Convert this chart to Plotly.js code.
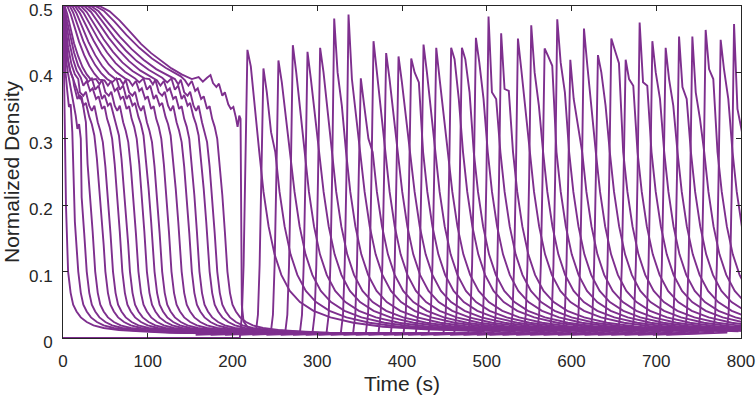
<!DOCTYPE html>
<html><head><meta charset="utf-8">
<script src="https://cdn.plot.ly/plotly-3.0.1.min.js"></script>
<style>html,body{margin:0;padding:0;background:#fff}</style>
</head><body><div id="chart" style="width:756px;height:402px"></div>
<script>
// ---------- tick labels ----------
const xTicks = [0, 100, 200, 300, 400, 500, 600, 700, 800];
const yTicks = [0, 0.1, 0.2, 0.3, 0.4, 0.5];
const yTickText = ['0', '0.1', '0.2', '0.3', '0.4', '0.5'];

// ---------- initial jam: time at which each segment falls through 0.1 ----------
const jamFallTimes = [6, 18, 28, 38, 50, 59, 70, 79, 89, 99, 108, 117, 128, 140, 152, 161, 173, 182, 194];
// which falling profile each jam line uses (0=A,1=B,2=C)
const jamFallKind = [0, 1, 2, 0, 1, 2, 0, 1, 2, 0, 1, 2, 0, 1, 2, 0, 1, 2, 0];

// falling profiles (offset from fall time, density)
const fallADt = [-50, -46, -42, -38, -35, -31, -28, -24, -21, -18, -15, -12, -9, -6, -3, 0];
const fallAV  = [0.388, 0.380, 0.387, 0.372, 0.376, 0.360, 0.364, 0.345, 0.349, 0.330, 0.318, 0.300, 0.262, 0.215, 0.160, 0.1];
const fallBDt = [-50, -45, -41, -37, -33, -30, -26, -23, -19, -16, -13, -10, -7, -4, -2, 0];
const fallBV  = [0.385, 0.391, 0.374, 0.380, 0.360, 0.366, 0.350, 0.354, 0.333, 0.322, 0.305, 0.270, 0.225, 0.175, 0.140, 0.1];
const fallCDt = [-50, -46, -43, -39, -35, -32, -28, -25, -22, -18, -15, -12, -9, -6, -3, 0];
const fallCV  = [0.390, 0.382, 0.389, 0.370, 0.365, 0.371, 0.350, 0.342, 0.350, 0.325, 0.312, 0.295, 0.258, 0.212, 0.158, 0.1];

// free-flow tail after a segment empties (offset from fall time, density)
const tailDt = [3, 6, 10, 15, 22, 30, 42, 60, 85, 120, 170, 240];
const tailV  = [0.068, 0.05, 0.04, 0.031, 0.024, 0.019, 0.015, 0.012, 0.010, 0.008, 0.007, 0.006];

// early part of each jam line [time, density]
const jamHead00 = [[0,0.5],[0.8,0.45],[2,0.33],[3.5,0.2],[4.8,0.14]];
const jamHead01 = [[0,0.5],[1.5,0.44],[3,0.4],[5,0.372],[7,0.348],[9,0.352],[11,0.31]];
const jamHead02 = [[0,0.5],[2,0.45],[4,0.415],[6,0.398],[9,0.378],[12,0.36],[15,0.335],[17,0.315],[19,0.322],[21,0.3]];
const jamHead03 = [[0,0.5],[2.5,0.462],[5,0.425],[8,0.404],[11,0.394],[14,0.384],[17,0.372],[20,0.36],[22,0.364],[25,0.34],[27,0.325]];
const jamHead04 = [[0,0.5],[3,0.452],[6,0.418],[9,0.4],[12,0.39]];
const jamHead05 = [[0,0.5],[3,0.472],[6,0.438],[10,0.412],[14,0.397],[18,0.39]];
const jamHead06 = [[0,0.5],[1,0.5],[4,0.472],[8,0.442],[12,0.419],[16,0.403],[21,0.392]];
const jamHead07 = [[0,0.5],[1.5,0.5],[5,0.476],[9,0.452],[13,0.43],[18,0.41],[23,0.398],[28,0.39]];
const jamHead08 = [[0,0.5],[2,0.5],[5,0.488],[9,0.466],[13,0.444],[18,0.424],[23,0.408],[28,0.397],[33,0.389]];
const jamHead09 = [[0,0.5],[5,0.5],[9,0.488],[14,0.466],[19,0.446],[25,0.426],[31,0.41],[37,0.398],[43,0.389]];
const jamHead10 = [[0,0.5],[8,0.5],[12,0.49],[18,0.468],[24,0.447],[31,0.427],[38,0.411],[45,0.399],[52,0.39]];
const jamHead11 = [[0,0.5],[11,0.5],[16,0.489],[23,0.467],[30,0.446],[38,0.426],[46,0.41],[54,0.398],[62,0.39]];
const jamHead12 = [[0,0.5],[14,0.5],[20,0.489],[28,0.468],[36,0.448],[45,0.428],[54,0.412],[63,0.4],[73,0.391]];
const jamHead13 = [[0,0.5],[17,0.5],[24,0.49],[33,0.469],[42,0.449],[52,0.43],[62,0.414],[73,0.401],[85,0.391]];
const jamHead14 = [[0,0.5],[21,0.5],[28,0.491],[38,0.47],[48,0.45],[59,0.431],[70,0.415],[82,0.402],[96,0.391]];
const jamHead15 = [[0,0.5],[25,0.5],[33,0.491],[43,0.472],[54,0.452],[66,0.433],[78,0.417],[91,0.403],[106,0.392]];
const jamHead16 = [[0,0.5],[29,0.5],[38,0.491],[49,0.472],[61,0.452],[74,0.433],[87,0.417],[101,0.404],[117,0.392]];
const jamHead17 = [[0,0.5],[33,0.5],[42,0.492],[54,0.474],[67,0.454],[81,0.435],[95,0.419],[110,0.405],[127,0.393]];
const jamHead18 = [[0,0.5],[38,0.5],[48,0.493],[61,0.476],[75,0.456],[90,0.437],[105,0.421],[121,0.407],[139,0.394]];
// last (most upstream) jam segment, drawn in full
const jamLast = [[0,0.5],[43,0.5],[55,0.492],[67,0.478],[80,0.46],[92,0.443],[104,0.429],[116,0.417],[128,0.406],[140,0.397],[152,0.39],[160,0.393],[165,0.386],[170,0.392],[174,0.396],[177,0.384],[181,0.378],[184,0.383],[188,0.365],[191,0.37],[195,0.352],[198,0.345],[201,0.348],[204,0.332],[206,0.318],[208,0.335],[209.5,0.33],[211,0.05],[213,0.025],[218,0.016],[230,0.011],[260,0.008],[320,0.006]];
// empty segment before the first wave arrives
const idleLine = [[0,0.0],[209,0.0]];

// ---------- stop-and-go waves after t = 210 s ----------
const spikePeakT = [217.6,236.5,254.2,271.2,288.5,303.4,320,336.9,351.4,366.4,381.3,395.9,410.9,425.4,440.4,458,470.7,487.2,502.1,517,536.8,552.5,568.3,583.2,598.6,614.7,631.2,647,663.9,680.4,695.4,711.1,726.9,742.6,758.3,776,791.8];
const spikePeakV = [0.434,0.406,0.418,0.441,0.431,0.437,0.481,0.487,0.391,0.447,0.429,0.424,0.421,0.442,0.437,0.437,0.437,0.452,0.484,0.459,0.451,0.471,0.436,0.48,0.419,0.466,0.426,0.451,0.419,0.475,0.447,0.437,0.454,0.454,0.464,0.449,0.473];
const spikeShoulderV = [0.409,0.37,0.385,0.40,0.39,0.40,0.40,0.39,0.35,0.40,0.39,0.385,0.40,0.40,0.39,0.42,0.42,0.415,0.37,0.375,0.404,0.40,0.425,0.415,0.36,0.41,0.40,0.434,0.39,0.385,0.40,0.39,0.378,0.37,0.405,0.404,0.345];
const spikeKneeV = [0.34,0.31,0.33,0.34,0.33,0.34,0.35,0.33,0.30,0.34,0.33,0.33,0.385,0.34,0.33,0.36,0.37,0.36,0.36,0.372,0.34,0.35,0.41,0.37,0.32,0.34,0.35,0.414,0.38,0.38,0.36,0.35,0.36,0.33,0.39,0.36,0.31];
// shared wave shape (offset from peak, density)
const riseDt = [-80, -9, -6.5, -4.5, -2.5];
const riseV  = [0.005, 0.008, 0.035, 0.11, 0.24];
const descDt = [14, 19, 25, 32, 40, 50, 62, 78, 98, 125, 160, 210, 280];
const descV  = [0.28, 0.22, 0.168, 0.126, 0.095, 0.071, 0.054, 0.041, 0.031, 0.023, 0.017, 0.013, 0.01];

// ---------- build traces ----------
const lineColor = '#7E2F8E';
const traces = [];
function addTrace(t, v) {
  traces.push({x: t, y: v, type: 'scatter', mode: 'lines', showlegend: false, hoverinfo: 'skip',
    line: {color: lineColor, width: 1.9}});
}
const jamHeads = [jamHead00,jamHead01,jamHead02,jamHead03,jamHead04,jamHead05,jamHead06,jamHead07,jamHead08,jamHead09,
                  jamHead10,jamHead11,jamHead12,jamHead13,jamHead14,jamHead15,jamHead16,jamHead17,jamHead18];
const falls = [[fallADt, fallAV], [fallBDt, fallBV], [fallCDt, fallCV]];
jamHeads.forEach((head, k) => {
  const tf = jamFallTimes[k];
  const t = head.map(p => p[0]), v = head.map(p => p[1]);
  const last = t[t.length - 1];
  const [fd, fv] = falls[jamFallKind[k]];
  fd.forEach((d, i) => { if (tf + d > last) { t.push(tf + d); v.push(fv[i]); } });
  tailDt.forEach((d, i) => { t.push(tf + d); v.push(tailV[i]); });
  addTrace(t, v);
});
addTrace(jamLast.map(p => p[0]), jamLast.map(p => p[1]));
addTrace(idleLine.map(p => p[0]), idleLine.map(p => p[1]));

spikePeakT.forEach((tp, i) => {
  const t = [], v = [];
  riseDt.forEach((d, j) => { if (i > 0 || j > 0) { t.push(tp + d); v.push(i === 0 && j === 1 ? 0.0 : riseV[j]); } });
  t.push(tp); v.push(spikePeakV[i]);
  t.push(tp + 4); v.push(spikeShoulderV[i]);
  t.push(tp + 9); v.push(spikeKneeV[i]);
  descDt.forEach((d, j) => { t.push(tp + d); v.push(descV[j]); });
  addTrace(t, v);
});

const fontFam = 'Liberation Sans, Arial, Helvetica, sans-serif';
const axisCol = '#262626';
const layout = {
  width: 756, height: 402,
  margin: {l: 63, r: 15, t: 6, b: 64},
  paper_bgcolor: '#ffffff', plot_bgcolor: '#ffffff',
  showlegend: false,
  xaxis: {
    range: [0, 800], tickvals: xTicks, ticktext: xTicks.map(String),
    ticks: 'inside', ticklen: 5, tickcolor: axisCol, mirror: 'ticks',
    showline: true, linecolor: axisCol, linewidth: 1,
    showgrid: false, zeroline: false,
    tickfont: {family: fontFam, size: 17, color: axisCol},
    ticklabelstandoff: 8, ticklabeloverflow: 'allow',
    title: {text: 'Time (s)', font: {family: fontFam, size: 21, color: axisCol}, standoff: 5}
  },
  yaxis: {
    range: [0, 0.5], tickvals: yTicks, ticktext: yTickText,
    ticks: 'inside', ticklen: 5, tickcolor: axisCol, mirror: 'ticks',
    showline: true, linecolor: axisCol, linewidth: 1,
    showgrid: false, zeroline: false,
    tickfont: {family: fontFam, size: 17, color: axisCol},
    ticklabelstandoff: 6, ticklabeloverflow: 'allow', ticklabelshift: 4,
    title: {text: 'Normalized Density', font: {family: fontFam, size: 21, color: axisCol}, standoff: 5}
  }
};
Plotly.newPlot('chart', traces, layout, {staticPlot: true, displayModeBar: false});
</script></body></html>
